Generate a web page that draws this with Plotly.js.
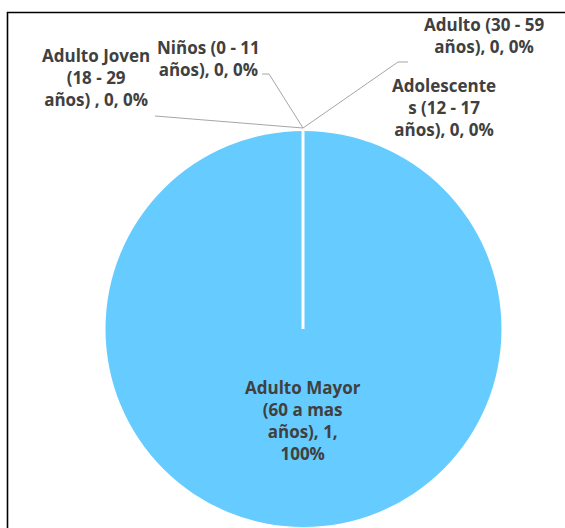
<!DOCTYPE html>
<html>
<head>
<meta charset="utf-8">
<script src="https://cdn.plot.ly/plotly-3.0.1.min.js"></script>
<style>html,body{margin:0;padding:0;background:#fff;}#chart{width:565px;height:528px;}</style>
</head>
<body>
<div id="chart"></div>
<script>
// ---- data ----
const categories = [
  "Niños (0 - 11 años)",
  "Adolescentes (12 - 17 años)",
  "Adulto Joven (18 - 29 años) ",
  "Adulto (30 - 59 años)",
  "Adulto Mayor (60 a mas años)"
];
const wrappedLabels = [
  "Niños (0 - 11<br>años)",
  "Adolescente<br>s (12 - 17<br>años)",
  "Adulto Joven<br>(18 - 29<br>años) ",
  "Adulto (30 - 59<br>años)",
  "Adulto Mayor<br>(60 a mas<br>años)"
];
const values = [0, 0, 0, 0, 1];
const sliceColors = ["#4472C4", "#ED7D31", "#A5A5A5", "#FFC000", "#66CCFF"];

// ---- layout helpers (pixel -> paper) ----
const W = 565, H = 528;
const px = x => x / W;
const py = y => 1 - y / H;
const cx = 303.5, cy = 329, R = 198;

const total = values.reduce((a, b) => a + b, 0);
const labelText = values.map((v, i) => {
  const pct = total ? Math.round(v / total * 100) : 0;
  let t = wrappedLabels[i] + ", " + v + ", " + pct + "%";
  if (i === 4) t = wrappedLabels[i] + ", " + v + ",<br>" + pct + "%";
  return t;
});

// label block positions (pixel centres)
const labelPos = [
  [208, 58],
  [444, 107],
  [96, 78],
  [484, 36],
  [303, 420]
];

const font = {family: "Open Sans, Noto Sans, sans-serif", size: 17, color: "#404040", weight: 700};

const annotations = labelPos.map((p, i) => ({
  xref: "paper", yref: "paper",
  x: px(p[0]), y: py(p[1]),
  xanchor: "center", yanchor: "middle", align: "center",
  text: "<b>" + labelText[i] + "</b>",
  showarrow: false,
  font: font
}));

const leader = {color: "#A6A6A6", width: 1};
const shapes = [
  // chart frame
  {type: "rect", xref: "paper", yref: "paper", x0: px(7.5), y0: py(12.5), x1: px(600), y1: py(600),
   line: {color: "#000000", width: 1.6}, fillcolor: "rgba(0,0,0,0)", layer: "above"},
  // leader lines
  {type: "line", xref: "paper", yref: "paper", x0: px(155), y0: py(116), x1: px(303), y1: py(128), line: leader},
  {type: "path", xref: "paper", yref: "paper",
   path: `M ${px(262)} ${py(74)} L ${px(269)} ${py(74)} L ${px(303)} ${py(128)}`, line: leader},
  {type: "path", xref: "paper", yref: "paper",
   path: `M ${px(408)} ${py(62)} L ${px(398)} ${py(62)} L ${px(303)} ${py(128)}`, line: leader},
  // slice boundary at the top (zero-width slices)
  {type: "line", xref: "paper", yref: "paper", x0: px(cx - 0.5), y0: py(cy), x1: px(cx - 0.5), y1: py(cy - R - 1),
   line: {color: "#FFFFFF", width: 3}, layer: "above"}
];

const trace = {
  type: "pie",
  labels: categories,
  values: values,
  sort: false,
  direction: "clockwise",
  rotation: 0,
  marker: {colors: sliceColors, line: {width: 0}},
  textinfo: "none",
  hoverinfo: "skip",
  showlegend: false,
  domain: {x: [px(cx - R), px(cx + R)], y: [py(cy + R), py(cy - R)]}
};

Plotly.newPlot("chart", [trace], {
  width: W, height: H,
  margin: {l: 0, r: 0, t: 0, b: 0},
  paper_bgcolor: "#FFFFFF",
  showlegend: false,
  annotations: annotations,
  shapes: shapes
}, {displayModeBar: false, staticPlot: true});
</script>
</body>
</html>
